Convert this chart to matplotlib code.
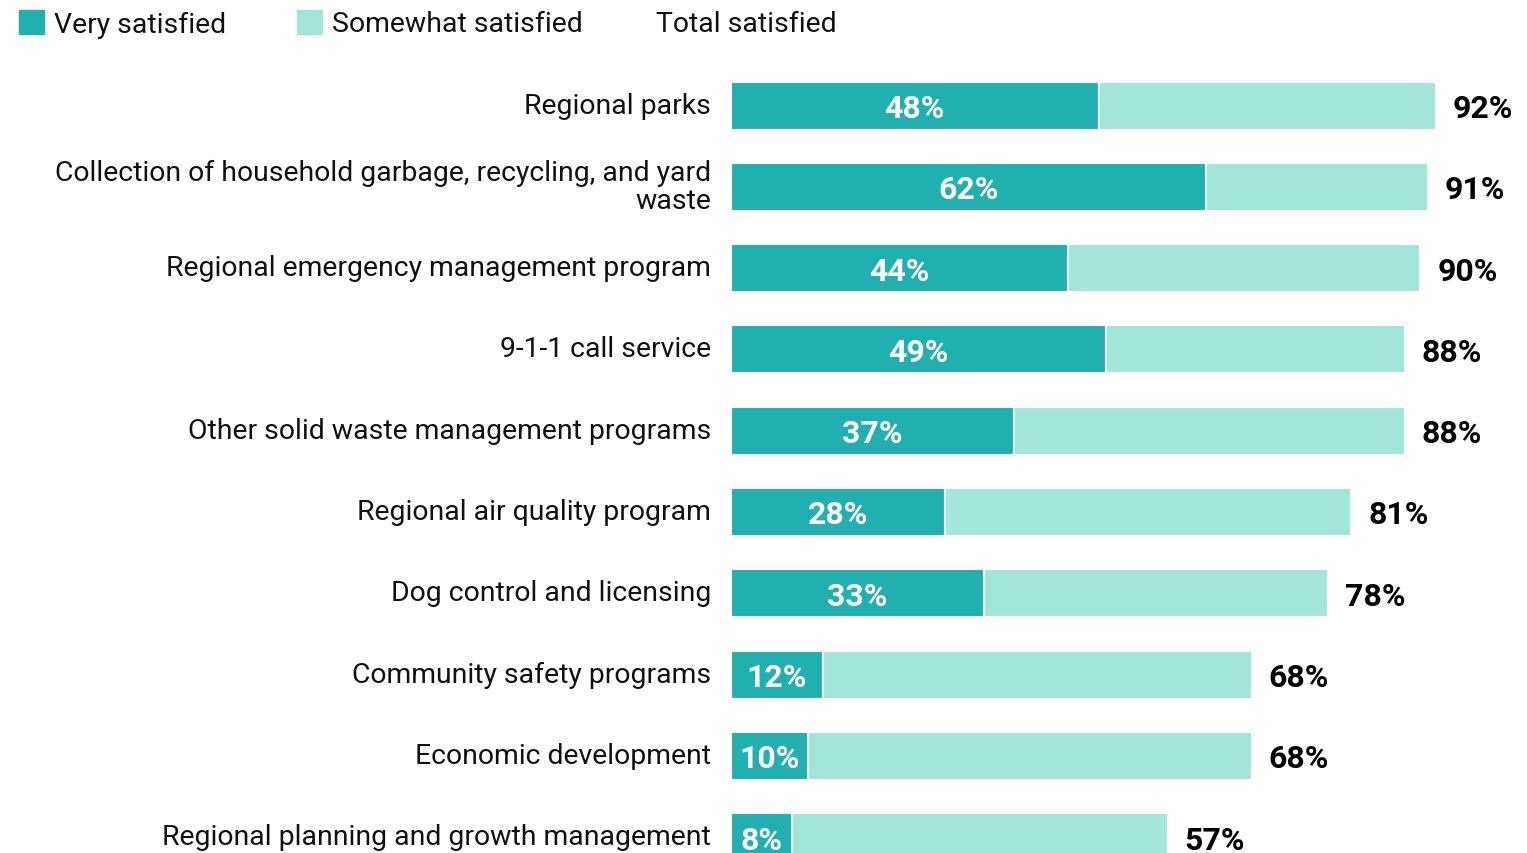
import matplotlib.pyplot as plt
from matplotlib.patches import Rectangle

categories = [
    'Regional parks',
    'Collection of household garbage, recycling, and yard\nwaste',
    'Regional emergency management program',
    '9-1-1 call service',
    'Other solid waste management programs',
    'Regional air quality program',
    'Dog control and licensing',
    'Community safety programs',
    'Economic development',
    'Regional planning and growth management',
]
very_satisfied = [48, 62, 44, 49, 37, 28, 33, 12, 10, 8]
total_satisfied = [92, 91, 90, 88, 88, 81, 78, 68, 68, 57]
somewhat_satisfied = [t - v for t, v in zip(total_satisfied, very_satisfied)]

DARK = '#20b0af'
LIGHT = '#a1e6d9'

plt.rcParams['font.family'] = ['Roboto', 'DejaVu Sans']


def main():
    W, H = 1527, 854
    fig = plt.figure(figsize=(W / 100, H / 100), dpi=100)

    x0 = 731
    px_per_pct = 7.66
    row0, row_step, bar_px = 106.5, 81.3, 48

    ax = fig.add_axes([x0 / W, 0, 1 - x0 / W, 1])
    ax.set_xlim(0, (W - x0) / px_per_pct)
    ax.set_ylim((H - row0) / row_step, -row0 / row_step)
    ax.axis('off')

    ys = list(range(len(categories)))
    h = bar_px / row_step
    ax.barh(ys, very_satisfied, height=h, color=DARK, edgecolor='white', linewidth=1.5)
    ax.barh(ys, somewhat_satisfied, left=very_satisfied, height=h, color=LIGHT,
            edgecolor='white', linewidth=1.5)

    for y, v, t, name in zip(ys, very_satisfied, total_satisfied, categories):
        ax.text(v / 2, y + 0.03, f'{v}%', ha='center', va='center', color='white',
                fontsize=23, fontweight='bold')
        ax.text(t + 2.2, y + 0.03, f'{t}%', ha='left', va='center', color='black',
                fontsize=23, fontweight='bold')
        ax.text(-20 / px_per_pct, y - 0.005, name, ha='right', va='center', color='#111111',
                fontsize=20.4, linespacing=1.02, clip_on=False)

    # legend row
    for sx, label in [(19, 'Very satisfied'), (297, 'Somewhat satisfied')]:
        color = DARK if sx == 19 else LIGHT
        fig.patches.append(Rectangle((sx / W, 1 - 35 / H), 25 / W, 24 / H,
                                     transform=fig.transFigure, color=color))
        fig.text((sx + 35) / W, 1 - 25 / H, label, ha='left', va='center',
                 fontsize=20.4, color='#111111')
    fig.text(656 / W, 1 - 25 / H, 'Total satisfied', ha='left', va='center',
             fontsize=20.4, color='#111111')

    fig.savefig('out.png', dpi=100)


if __name__ == '__main__':
    main()
